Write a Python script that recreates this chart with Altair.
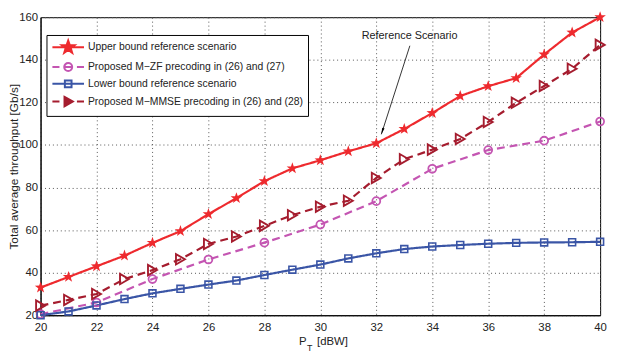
import math
import altair as alt
import pandas as pd

# ---------------- data ----------------
pt = list(range(20, 41))
upper = [33, 38, 43, 48, 54, 59.5, 67.5, 75, 83, 89, 92.8, 97, 100.8,
         107.5, 115, 123, 127.6, 131.4, 142.5, 152.8, 160]
mmse = [24.5, 27.2, 30, 37, 41.2, 46.3, 53.5, 57, 62, 67, 71, 73.8, 84.5,
        93.3, 97.8, 102.8, 110.8, 119.8, 127.7, 135.8, 147]
lower = [20, 21.8, 24.6, 27.6, 30.3, 32.4, 34.4, 36.3, 38.9, 41.4, 43.8,
         46.7, 49.1, 51.1, 52.3, 53, 53.6, 54, 54.2, 54.3, 54.5]
pt_zf = [20, 22, 24, 26, 28, 30, 32, 34, 36, 38, 40]
zf = [20.5, 26, 37, 46.2, 54.1, 62.6, 73.6, 88.8, 97.6, 102, 111]

names = ["Upper bound reference scenario",
         "Proposed M\u2212ZF precoding in (26) and (27)",
         "Lower bound reference scenario",
         "Proposed M\u2212MMSE precoding in (26) and (28)"]
colors = ["#ee2a2e", "#c455b2", "#3a55a6", "#a51c2e"]

x_ticks = list(range(20, 41, 2))
y_ticks = list(range(20, 161, 20))

annot_text = "Reference Scenario"
annot_xy = (33.19, 151)
arrow_from = (33.2, 146.6)
arrow_to = (32.18, 105)
xtitle_parts = [("P", 29.24, 7.2), ("T", 29.52, 4.6), ("[dBW]", 29.88, 7.2)]

FONT = "Liberation Sans"
TXT = "#222222"

# ---------------- marker shapes ----------------
def star(r, cx=0.0):
    pts = []
    for k in range(10):
        a = math.radians(-90 + 36 * k)
        rr = r if k % 2 == 0 else r * 0.4
        pts.append((cx + rr * math.cos(a), rr * math.sin(a)))
    return "M" + "L".join(f"{x:.3f},{y:.3f}" for x, y in pts) + "Z"

def circ(r, cx=0.0):
    return (f"M{cx + r:.3f},0A{r},{r} 0 1,1 {cx - r:.3f},0"
            f"A{r},{r} 0 1,1 {cx + r:.3f},0Z")

def sq(h, cx=0.0):
    return (f"M{cx - h:.3f},{-h}L{cx + h:.3f},{-h}L{cx + h:.3f},{h}"
            f"L{cx - h:.3f},{h}Z")

def tri(h, cx=0.0):
    return f"M{cx - 0.8*h:.3f},{-h}L{cx + h:.3f},0L{cx - 0.8*h:.3f},{h}Z"

# legend symbol: unit = 6.5 px (symbolSize 169); line 32 px long
L0, L1 = -1.0, 3.923
C = (L0 + L1) / 2
LINE = f"M{L0},0L{L1},0"
seg = lambda a, b: f"M{a:.3f},0L{b:.3f},0"
DASH = seg(L0, L0 + 1.1) + seg(C - 0.6, C + 0.6) + seg(L1 - 1.1, L1)
leg_paths = [LINE + star(1.05, C), DASH + circ(0.62, C), LINE + sq(0.52, C), DASH + tri(0.72, C)]
leg_fills = [colors[0], "transparent", "transparent", colors[3]]

# ---------------- encodings ----------------
X = alt.X("x:Q", scale=alt.Scale(domain=[20, 40], nice=False, zero=False),
          axis=alt.Axis(values=x_ticks, title=None, grid=True, tickSize=0,
                        labelFlush=False, labelPadding=6, labelFont=FONT,
                        labelFontSize=11.5, labelColor=TXT, domainColor="black",
                        gridColor="#555555", gridDash=[1, 3], gridWidth=1))
Y = alt.Y("y:Q", scale=alt.Scale(domain=[20, 160], nice=False, zero=False),
          axis=alt.Axis(values=y_ticks, title="Total average throughput [Gb/s]",
                        grid=True, tickSize=0, labelFlush=False, labelPadding=3,
                        labelFont=FONT, labelFontSize=11.5, labelColor=TXT,
                        titleFont=FONT, titleFontSize=12, titleFontWeight="normal",
                        titleColor=TXT, titleX=-27, titleBaseline="middle",
                        domainColor="black",
                        gridColor="#555555", gridDash=[1, 3], gridWidth=1))

def df_of(xs, ys):
    return pd.DataFrame({"x": xs, "y": ys})

series = [
    (pt, upper, colors[0], [1, 0], dict(shape=star(1), size=150, filled=True, strokeWidth=1)),
    (pt_zf, zf, colors[1], [8, 5], dict(shape="circle", size=64, filled=False, strokeWidth=1.8)),
    (pt, lower, colors[2], [1, 0], dict(shape="square", size=49, filled=False, strokeWidth=1.6)),
    (pt, mmse, colors[3], [8, 5], dict(shape="triangle-right", size=110, filled=False, strokeWidth=1.9)),
]

layers = []
for xs, ys, c, dash, pkw in series:
    d = df_of(xs, ys)
    layers.append(alt.Chart(d).mark_line(color=c, strokeWidth=2.2, strokeDash=dash).encode(x=X, y=Y))
for xs, ys, c, dash, pkw in series:
    d = df_of(xs, ys)
    layers.append(alt.Chart(d).mark_point(color=c, opacity=1, **pkw).encode(x=X, y=Y))

# annotation arrow + text
arr = pd.DataFrame({"x": [arrow_from[0]], "y": [arrow_from[1]],
                    "x2": [arrow_to[0]], "y2": [arrow_to[1]]})
layers.append(alt.Chart(arr).mark_rule(color="black", strokeWidth=0.8).encode(
    x=X, y=Y, x2="x2:Q", y2="y2:Q"))
head = pd.DataFrame({"x": [arrow_to[0]], "y": [arrow_to[1]]})
layers.append(alt.Chart(head).mark_point(
    shape="M0,0L0.3,1.6L-0.3,1.6Z", size=70, filled=True, color="black",
    opacity=1, angle=198).encode(x=X, y=Y))
txt = pd.DataFrame({"x": [annot_xy[0]], "y": [annot_xy[1]], "t": [annot_text]})
layers.append(alt.Chart(txt).mark_text(font=FONT, fontSize=11, color=TXT).encode(
    x=X, y=Y, text="t:N"))

# x axis title with subscript
for s, xv, yv in xtitle_parts:
    tdf = pd.DataFrame({"x": [xv], "y": [yv], "t": [s]})
    layers.append(alt.Chart(tdf).mark_text(
        font=FONT, fontSize=(9 if s == "T" else 11.5), color=TXT,
        align="left", baseline="middle", clip=False).encode(x=X, y=Y, text="t:N"))

# legend (drawn by the library's legend, from an off-canvas layer)
leg = alt.Legend(title=None, orient="none", legendX=6, legendY=18,
                 strokeColor="black", fillColor="white", padding=5,
                 symbolSize=169, symbolStrokeWidth=2, labelFont=FONT,
                 labelFontSize=10.5, labelColor=TXT, labelOffset=22,
                 labelLimit=500, rowPadding=1, symbolOpacity=1)
legdf = pd.DataFrame({"x": [5] * 4, "y": [0] * 4, "s": names})
layers.append(alt.Chart(legdf).mark_point(clip=True, opacity=1, strokeWidth=2).encode(
    x=X, y=Y,
    shape=alt.Shape("s:N", scale=alt.Scale(domain=names, range=leg_paths), legend=leg),
    stroke=alt.Stroke("s:N", scale=alt.Scale(domain=names, range=colors), legend=leg),
    fill=alt.Fill("s:N", scale=alt.Scale(domain=names, range=leg_fills), legend=leg),
))

chart = alt.layer(*layers).properties(
    width=567, height=302,
    padding={"left": 33, "top": 7, "right": 9, "bottom": 43},
    autosize=alt.AutoSizeParams(type="none"),
).configure_view(stroke="black", strokeWidth=1)

chart.save("out.html", embed_options={"renderer": "svg", "actions": False})
